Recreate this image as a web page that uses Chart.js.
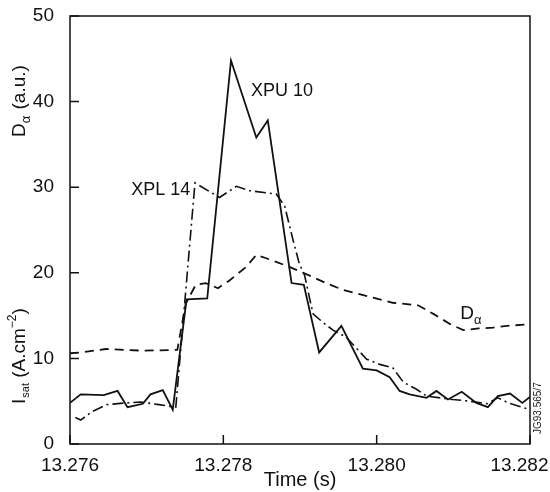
<!DOCTYPE html>
<html>
<head>
<meta charset="utf-8">
<script src="https://cdn.jsdelivr.net/npm/chart.js@4.4.1/dist/chart.umd.min.js"></script>
<style>
  html, body { margin: 0; padding: 0; background: #fff; }
  #wrap { width: 550px; height: 492px; }
</style>
</head>
<body>
<div id="wrap"><canvas id="grafico" width="550" height="492"></canvas></div>
<script>
// datos
const tiemposXPU = [13.27600, 13.27614, 13.27644, 13.27662, 13.27675, 13.27695, 13.27705, 13.27721, 13.27734,
  13.27752, 13.27779, 13.27810, 13.27843, 13.27858, 13.27889, 13.27905, 13.27925, 13.27954, 13.27982,
  13.28000, 13.28017, 13.28030, 13.28043, 13.28065, 13.28078, 13.28093, 13.28111, 13.28130, 13.28145,
  13.28158, 13.28174, 13.28190, 13.28200];
const valoresXPU = [4.8, 5.8, 5.7, 6.2, 4.3, 4.7, 5.8, 6.3, 4.0,
  16.9, 17.0, 44.8, 35.8, 37.8, 18.8, 18.6, 10.7, 13.8, 8.8,
  8.6, 7.8, 6.2, 5.8, 5.4, 6.2, 5.2, 6.1, 4.8, 4.3,
  5.6, 5.9, 4.8, 5.5];

const tiemposXPL = [13.27607, 13.27614, 13.27629, 13.27648, 13.27673, 13.27692, 13.27716, 13.27738,
  13.27763, 13.27795, 13.27817, 13.27834, 13.27869, 13.27880, 13.27891, 13.27899, 13.27906, 13.27917,
  13.27930, 13.27943, 13.27960, 13.27987, 13.28004, 13.28021, 13.28035, 13.28052, 13.28065, 13.28099,
  13.28122, 13.28144, 13.28158, 13.28172, 13.28200];
const valoresXPL = [3.1, 2.8, 3.8, 4.6, 4.8, 4.9, 4.6, 4.3,
  30.5, 28.8, 30.1, 29.6, 29.2, 27.8, 23.8, 21.1, 19.7, 15.2,
  14.2, 13.3, 12.5, 9.9, 9.3, 8.9, 7.2, 6.4, 5.6, 5.2,
  5.0, 4.7, 5.4, 4.8, 4.0];

const tiemposDa = [13.27600, 13.27614, 13.27647, 13.27695, 13.27740, 13.27751, 13.27764, 13.27777,
  13.27793, 13.27808, 13.27830, 13.27843, 13.27856, 13.27886, 13.27912, 13.27934, 13.27956, 13.27991,
  13.28021, 13.28054, 13.28074, 13.28096, 13.28113, 13.28133, 13.28152, 13.28170, 13.28200];
const valoresDa = [10.6, 10.7, 11.1, 10.9, 11.0, 16.4, 18.6, 18.8,
  18.2, 19.1, 20.7, 22.1, 21.7, 20.7, 19.7, 18.8, 18.0, 17.2,
  16.5, 16.2, 15.2, 14.0, 13.3, 13.5, 13.6, 13.8, 14.0];

const ticksX = [13.276, 13.278, 13.280, 13.282];
const ticksY = [0, 10, 20, 30, 40, 50];

// etiquetas de las curvas: [texto, tiempo, valor]
const etiquetas = [['XPU 10', 13.27836, 41.2], ['XPL 14', 13.27680, 29.7]];

function puntos(t, v) {
    return t.map((x, i) => ({ x: x, y: v[i] }));
}

const fuente = '"Liberation Sans", Arial, sans-serif';

// plugin para el marco, las marcas hacia adentro y los textos
const decoracion = {
    id: 'decoracion',
    afterDraw(chart) {
        const ctx = chart.ctx;
        const a = chart.chartArea;
        const sx = chart.scales.x, sy = chart.scales.y;
        ctx.save();
        ctx.strokeStyle = '#111';
        ctx.lineWidth = 1.5;
        ctx.strokeRect(a.left, a.top, a.right - a.left, a.bottom - a.top);
        ctx.beginPath();
        ticksY.forEach(v => {
            const y = sy.getPixelForValue(v);
            ctx.moveTo(a.left, y);
            ctx.lineTo(a.left + 9, y);
        });
        ticksX.forEach(v => {
            const x = sx.getPixelForValue(v);
            ctx.moveTo(x, a.bottom);
            ctx.lineTo(x, a.bottom - 9);
        });
        ctx.stroke();

        ctx.fillStyle = '#111';
        ctx.textBaseline = 'middle';
        ctx.textAlign = 'left';
        ctx.font = '18px ' + fuente;
        etiquetas.forEach(e => {
            ctx.fillText(e[0], sx.getPixelForValue(e[1]), sy.getPixelForValue(e[2]));
        });

        // etiqueta D alfa
        let x0 = sx.getPixelForValue(13.28109), y0 = sy.getPixelForValue(15.2);
        ctx.font = '19px ' + fuente;
        ctx.fillText('D', x0, y0);
        let w = ctx.measureText('D').width;
        ctx.font = '13px ' + fuente;
        ctx.fillText('\u03b1', x0 + w, y0 + 7);

        // titulos del eje y, girados
        ctx.translate(20, 0);
        ctx.rotate(-Math.PI / 2);
        // D alfa (a.u.)
        let px = -137;
        ctx.font = '19px ' + fuente;
        ctx.fillText('D', px, 0);
        px += ctx.measureText('D').width;
        ctx.font = '13px ' + fuente;
        ctx.fillText('\u03b1', px, 6);
        px += ctx.measureText('\u03b1').width + 1;
        ctx.font = '19px ' + fuente;
        ctx.fillText(' (a.u.)', px, 0);
        // I sat (A.cm-2)
        px = -404;
        ctx.fillText('I', px, 0);
        px += ctx.measureText('I').width + 1;
        ctx.font = '11px ' + fuente;
        ctx.fillText('sat', px, 6);
        px += ctx.measureText('sat').width;
        ctx.font = '19px ' + fuente;
        ctx.fillText(' (A.cm', px, 0);
        px += ctx.measureText(' (A.cm').width;
        ctx.font = '12px ' + fuente;
        ctx.fillText('\u22122', px, -7);
        px += ctx.measureText('\u22122').width;
        ctx.font = '19px ' + fuente;
        ctx.fillText(')', px, 0);
        ctx.restore();

        // codigo de la figura
        ctx.save();
        ctx.translate(a.right + 8, a.bottom - 10);
        ctx.rotate(-Math.PI / 2);
        ctx.font = '10px ' + fuente;
        ctx.fillStyle = '#222';
        ctx.textAlign = 'left';
        ctx.textBaseline = 'middle';
        ctx.fillText('JG93.565/7', 0, 0);
        ctx.restore();
    }
};

const ctx = document.getElementById('grafico').getContext('2d');
const miGrafico = new Chart(ctx, {
    type: 'line',
    data: {
        datasets: [{
            label: 'XPU 10',
            data: puntos(tiemposXPU, valoresXPU),
            borderColor: '#111',
            borderWidth: 1.8,
            pointRadius: 0,
            tension: 0
        }, {
            label: 'XPL 14',
            data: puntos(tiemposXPL, valoresXPL),
            borderColor: '#111',
            borderWidth: 1.6,
            borderDash: [11, 4, 2, 4],
            pointRadius: 0,
            tension: 0
        }, {
            label: 'D\u03b1',
            data: puntos(tiemposDa, valoresDa),
            borderColor: '#111',
            borderWidth: 1.8,
            borderDash: [9, 6],
            pointRadius: 0,
            tension: 0
        }]
    },
    options: {
        responsive: false,
        animation: false,
        layout: { padding: { top: 16, right: 20, left: 0, bottom: 0 } },
        plugins: { legend: { display: false }, tooltip: { enabled: false } },
        scales: {
            x: {
                type: 'linear',
                min: 13.276,
                max: 13.282,
                afterBuildTicks: s => { s.ticks = ticksX.map(v => ({ value: v })); },
                afterFit: s => { s.height = 48; s.paddingLeft = 0; s.paddingRight = 0; },
                grid: { display: false },
                border: { display: false },
                ticks: {
                    color: '#111',
                    font: { family: fuente, size: 19 },
                    padding: 2,
                    maxRotation: 0,
                    // la ultima etiqueta queda corrida a la izquierda, como en la figura
                    callback: (v, i) => i === ticksX.length - 1 ? v.toFixed(3) + '    ' : v.toFixed(3)
                },
                title: {
                    display: true,
                    text: 'Time (s)',
                    color: '#111',
                    font: { family: fuente, size: 20 },
                    padding: { top: 0, bottom: 0 }
                }
            },
            y: {
                min: 0,
                max: 50,
                afterBuildTicks: s => { s.ticks = ticksY.map(v => ({ value: v })); },
                afterFit: s => { s.width = 70; s.paddingTop = 0; s.paddingBottom = 0; },
                grid: { display: false },
                border: { display: false },
                ticks: {
                    color: '#111',
                    font: { family: fuente, size: 19 },
                    padding: 8
                }
            }
        }
    },
    plugins: [decoracion]
});
</script>
</body>
</html>
